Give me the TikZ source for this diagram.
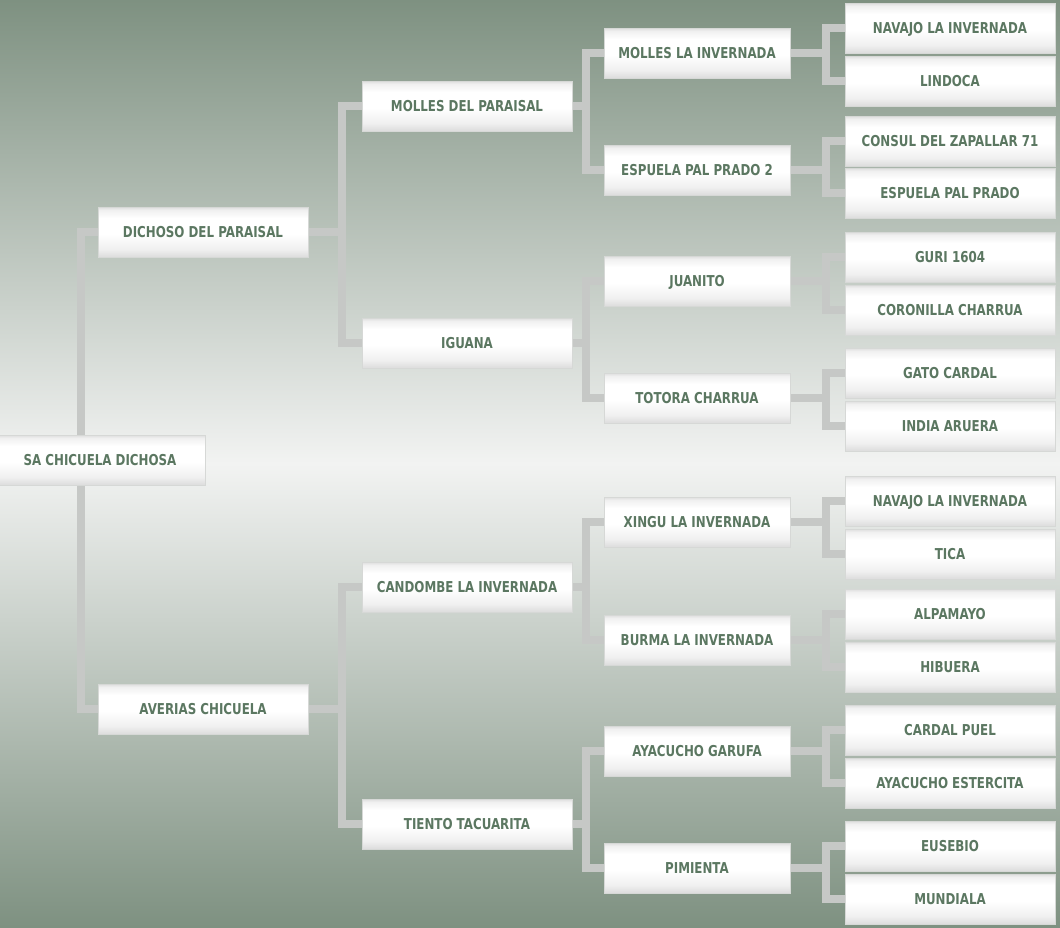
\documentclass[tikz,border=0pt]{standalone}
\usepackage{fontspec}
\newfontfamily\boxfont{DejaVu Sans}[FakeStretch=0.79]
\definecolor{txt}{HTML}{5B7761}
\definecolor{bgdark}{HTML}{7E9181}
\definecolor{bglight}{HTML}{F2F3F2}
\definecolor{conn}{HTML}{C6C8C6}
\definecolor{bxtop}{HTML}{DEDEDE}
\definecolor{bxbot}{HTML}{DCDCDC}
\definecolor{bxmid}{HTML}{F0F0F0}
\definecolor{boxline}{HTML}{D6D8D6}
\pgfdeclareverticalshading{bgsh}{100bp}{color(0bp)=(bgdark); color(25bp)=(bgdark); color(50bp)=(bglight); color(75bp)=(bgdark); color(100bp)=(bgdark)}
\pgfdeclareverticalshading{boxsh}{100bp}{color(0bp)=(bxbot); color(25bp)=(bxbot); color(33bp)=(bxmid); color(48bp)=(white); color(64bp)=(white); color(72bp)=(bxmid); color(75bp)=(bxtop); color(100bp)=(bxtop)}
\pgfdeclarelayer{bg}
\pgfsetlayers{bg,main}
\tikzset{
  pbox/.style={rectangle, draw=boxline, line width=0.8pt, shading=boxsh,
    minimum height=50pt, inner sep=0pt, text height=10.6pt, text depth=0pt,
    font=\boxfont\bfseries\fontsize{15}{18}\selectfont, text=txt},
  wbox/.style={pbox, minimum width=210pt},
  nbox/.style={pbox, minimum width=186pt},
  link/.style={draw=conn, line width=8pt}
}
\begin{document}
\begin{tikzpicture}[x=1pt,y=-1pt]
\useasboundingbox (0,0) rectangle (1060,927);
% generation 1
\node[wbox] (g) at (100,460) {SA CHICUELA DICHOSA};
% generation 2
\node[wbox] (s) at (203,232) {DICHOSO DEL PARAISAL};
\node[wbox] (d) at (203,709) {AVERIAS CHICUELA};
% generation 3
\node[wbox] (ss) at (467,106) {MOLLES DEL PARAISAL};
\node[wbox] (sd) at (467,343) {IGUANA};
\node[wbox] (ds) at (467,587) {CANDOMBE LA INVERNADA};
\node[wbox] (dd) at (467,824) {TIENTO TACUARITA};
% generation 4
\node[nbox] (sss) at (697,53) {MOLLES LA INVERNADA};
\node[nbox] (ssd) at (697,170) {ESPUELA PAL PRADO 2};
\node[nbox] (sds) at (697,281) {JUANITO};
\node[nbox] (sdd) at (697,398) {TOTORA CHARRUA};
\node[nbox] (dss) at (697,522) {XINGU LA INVERNADA};
\node[nbox] (dsd) at (697,640) {BURMA LA INVERNADA};
\node[nbox] (dds) at (697,751) {AYACUCHO GARUFA};
\node[nbox] (ddd) at (697,868) {PIMIENTA};
% generation 5
\node[wbox] (ssss) at (950,28) {NAVAJO LA INVERNADA};
\node[wbox] (sssd) at (950,81) {LINDOCA};
\node[wbox] (ssds) at (950,141) {CONSUL DEL ZAPALLAR 71};
\node[wbox] (ssdd) at (950,193) {ESPUELA PAL PRADO};
\node[wbox] (sdss) at (950,257) {GURI 1604};
\node[wbox] (sdsd) at (950,310) {CORONILLA CHARRUA};
\node[wbox] (sdds) at (950,373) {GATO CARDAL};
\node[wbox] (sddd) at (950,426) {INDIA ARUERA};
\node[wbox] (dsss) at (950,501) {NAVAJO LA INVERNADA};
\node[wbox] (dssd) at (950,554) {TICA};
\node[wbox] (dsds) at (950,614) {ALPAMAYO};
\node[wbox] (dsdd) at (950,667) {HIBUERA};
\node[wbox] (ddss) at (950,730) {CARDAL PUEL};
\node[wbox] (ddsd) at (950,783) {AYACUCHO ESTERCITA};
\node[wbox] (ddds) at (950,846) {EUSEBIO};
\node[wbox] (dddd) at (950,899) {MUNDIALA};
% junctions
\coordinate (jg) at (81,460);
\coordinate (js) at (342,232);
\coordinate (jd) at (342,709);
\coordinate (jss) at (586,106);
\coordinate (jsd) at (586,343);
\coordinate (jds) at (586,587);
\coordinate (jdd) at (586,824);
\coordinate (jsss) at (826,53);
\coordinate (jssd) at (826,170);
\coordinate (jsds) at (826,281);
\coordinate (jsdd) at (826,398);
\coordinate (jdss) at (826,522);
\coordinate (jdsd) at (826,640);
\coordinate (jdds) at (826,751);
\coordinate (jddd) at (826,868);
\begin{pgfonlayer}{bg}
\shade[shading=bgsh] (0,0) rectangle (1060,927);
\draw[link] (s.west) -| (jg) |- (d.west);
\foreach \p in {s,d,ss,sd,ds,dd,sss,ssd,sds,sdd,dss,dsd,dds,ddd}{
  \draw[link] (\p.east) -- (j\p);
  \draw[link] (\p s.west) -| (j\p) |- (\p d.west);
}
\end{pgfonlayer}
\end{tikzpicture}
\end{document}
